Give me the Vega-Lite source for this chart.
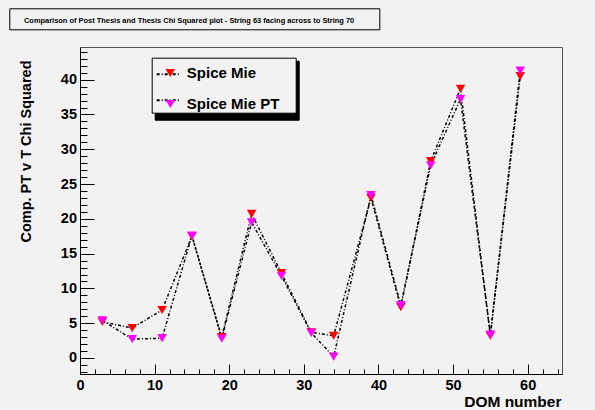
{
  "$schema": "https://vega.github.io/schema/vega-lite/v6.json",
  "width": 482,
  "height": 327,
  "autosize": "none",
  "padding": {"left": 80, "top": 47, "right": 33, "bottom": 36},
  "background": "#f2f2f2",
  "config": {
    "font": "Liberation Sans",
    "view": {"stroke": "#555555", "strokeWidth": 1, "fill": "#f2f2f2"}
  },
  "title": {
    "text": "Comparison of Post Thesis and Thesis Chi Squared plot - String 63 facing across to String  70",
    "anchor": "start",
    "frame": "group",
    "font": "Liberation Sans",
    "fontSize": 7.45,
    "fontWeight": "bold",
    "color": "#000000",
    "baseline": "alphabetic",
    "offset": -13.2,
    "dx": -56,
    "dy": 9,
    "zindex": 6
  },
  "data": {
    "values": [
      {"dom": 3, "series": "Spice Mie", "chi2": 5.2},
      {"dom": 7, "series": "Spice Mie", "chi2": 4.3},
      {"dom": 11, "series": "Spice Mie", "chi2": 6.9},
      {"dom": 15, "series": "Spice Mie", "chi2": 17.5},
      {"dom": 19, "series": "Spice Mie", "chi2": 3.0},
      {"dom": 23, "series": "Spice Mie", "chi2": 20.7},
      {"dom": 27, "series": "Spice Mie", "chi2": 12.2},
      {"dom": 31, "series": "Spice Mie", "chi2": 3.7},
      {"dom": 34, "series": "Spice Mie", "chi2": 3.2},
      {"dom": 39, "series": "Spice Mie", "chi2": 23.0},
      {"dom": 43, "series": "Spice Mie", "chi2": 7.3},
      {"dom": 47, "series": "Spice Mie", "chi2": 28.3},
      {"dom": 51, "series": "Spice Mie", "chi2": 38.7},
      {"dom": 55, "series": "Spice Mie", "chi2": 3.2},
      {"dom": 59, "series": "Spice Mie", "chi2": 40.5},
      {"dom": 3, "series": "Spice Mie PT", "chi2": 5.4},
      {"dom": 7, "series": "Spice Mie PT", "chi2": 2.7},
      {"dom": 11, "series": "Spice Mie PT", "chi2": 2.85},
      {"dom": 15, "series": "Spice Mie PT", "chi2": 17.6},
      {"dom": 19, "series": "Spice Mie PT", "chi2": 2.8},
      {"dom": 23, "series": "Spice Mie PT", "chi2": 19.5},
      {"dom": 27, "series": "Spice Mie PT", "chi2": 11.8},
      {"dom": 31, "series": "Spice Mie PT", "chi2": 3.6},
      {"dom": 34, "series": "Spice Mie PT", "chi2": 0.2},
      {"dom": 39, "series": "Spice Mie PT", "chi2": 23.4},
      {"dom": 43, "series": "Spice Mie PT", "chi2": 7.6},
      {"dom": 47, "series": "Spice Mie PT", "chi2": 27.7},
      {"dom": 51, "series": "Spice Mie PT", "chi2": 37.2},
      {"dom": 55, "series": "Spice Mie PT", "chi2": 3.35},
      {"dom": 59, "series": "Spice Mie PT", "chi2": 41.3}
    ]
  },
  "layer": [
    {
      "mark": {"type": "line", "strokeWidth": 1.5},
      "encoding": {
        "x": {
          "field": "dom",
          "type": "quantitative",
          "scale": {"domain": [0, 64.6], "nice": false, "zero": false},
          "axis": {
            "values": [0, 2, 4, 6, 8, 10, 12, 14, 16, 18, 20, 22, 24, 26, 28, 30, 32, 34, 36, 38, 40, 42, 44, 46, 48, 50, 52, 54, 56, 58, 60, 62, 64],
            "tickCount": 100,
            "format": "d",
            "grid": false,
            "domainColor": "#000000",
            "tickColor": "#000000",
            "tickWidth": 1,
            "tickSize": {"condition": {"test": "datum.value % 10 === 0", "value": -10}, "value": -5},
            "labelExpr": "datum.value % 10 === 0 ? datum.label : ''",
            "labelFont": "Liberation Sans",
            "labelFontSize": 14.5,
            "labelFontWeight": "bold",
            "labelColor": "#000000",
            "labelFlush": false,
            "labelOverlap": false,
            "labelBaseline": "alphabetic",
            "labelPadding": 25.7,
            "title": "DOM number",
            "titleFont": "Liberation Sans",
            "titleFontSize": 15.5,
            "titleFontWeight": "bold",
            "titleColor": "#000000",
            "titleAlign": "right",
            "titleBaseline": "alphabetic",
            "titleX": 481,
            "titleY": 32
          }
        },
        "y": {
          "field": "chi2",
          "type": "quantitative",
          "scale": {"domain": [-2.3, 44.7], "nice": false, "zero": false},
          "axis": {
            "values": [-2, -1, 0, 1, 2, 3, 4, 5, 6, 7, 8, 9, 10, 11, 12, 13, 14, 15, 16, 17, 18, 19, 20, 21, 22, 23, 24, 25, 26, 27, 28, 29, 30, 31, 32, 33, 34, 35, 36, 37, 38, 39, 40, 41, 42, 43, 44],
            "tickCount": 100,
            "format": "d",
            "grid": false,
            "domainColor": "#000000",
            "tickColor": "#000000",
            "tickWidth": 1,
            "tickSize": {"condition": {"test": "datum.value % 5 === 0", "value": -14}, "value": -7},
            "labelExpr": "datum.value % 5 === 0 ? datum.label : ''",
            "labelFont": "Liberation Sans",
            "labelFontSize": 14.5,
            "labelFontWeight": "bold",
            "labelColor": "#000000",
            "labelFlush": false,
            "labelOverlap": false,
            "labelBaseline": "middle",
            "labelPadding": 17.5,
            "title": "Comp. PT v T Chi Squared",
            "titleFont": "Liberation Sans",
            "titleFontSize": 14.5,
            "titleFontWeight": "bold",
            "titleColor": "#000000",
            "titleAngle": 270,
            "titleAlign": "right",
            "titleBaseline": "middle",
            "titleX": -54,
            "titleY": 13
          }
        },
        "stroke": {
          "field": "series",
          "type": "nominal",
          "scale": {"domain": ["Spice Mie", "Spice Mie PT"], "range": ["#000000", "#000000"]},
          "legend": {
            "orient": "none",
            "legendX": 71.7,
            "legendY": 10.7,
            "title": null,
            "symbolType": "stroke",
            "symbolSize": 529,
            "symbolStrokeWidth": 2,
            "symbolDash": [3, 2, 1, 2],
            "symbolStrokeColor": "#000000",
            "labelFontSize": 15,
            "labelExpr": "''",
            "labelOffset": 111,
            "rowPadding": 5,
            "padding": 4,
            "strokeColor": "#000000",
            "fillColor": "#f2f2f2",
            "zindex": 2
          }
        },
        "strokeDash": {
          "datum": "frame",
          "type": "nominal",
          "scale": {"range": [[3, 2, 1, 2]]},
          "legend": {
            "orient": "none",
            "legendX": -70.7,
            "legendY": -38.7,
            "title": null,
            "symbolSize": 441,
            "symbolStrokeWidth": 0,
            "symbolOpacity": 0,
            "labelFontSize": 10,
            "labelExpr": "''",
            "labelOffset": 344,
            "padding": 2.5,
            "strokeColor": "#000000",
            "fillColor": "#f2f2f2",
            "zindex": 5
          }
        },
        "strokeWidth": {
          "datum": "shadow",
          "type": "nominal",
          "scale": {"range": [1.5]},
          "legend": {
            "orient": "none",
            "legendX": -68.7,
            "legendY": -36.7,
            "title": null,
            "symbolSize": 441,
            "symbolStrokeWidth": 0,
            "symbolOpacity": 0,
            "labelFontSize": 10,
            "labelExpr": "''",
            "labelOffset": 344,
            "padding": 2.5,
            "strokeColor": "#000000",
            "fillColor": "#000000",
            "zindex": 4
          }
        },
        "order": {"field": "dom", "type": "quantitative"}
      }
    },
    {
      "mark": {"type": "point", "filled": true, "size": 90, "opacity": 1, "strokeWidth": 0},
      "encoding": {
        "x": {"field": "dom", "type": "quantitative"},
        "y": {"field": "chi2", "type": "quantitative"},
        "fill": {
          "field": "series",
          "type": "nominal",
          "scale": {"range": ["#ff0000", "#ff00ff"]},
          "legend": {
            "orient": "none",
            "legendX": 82.8,
            "legendY": 18.5,
            "title": null,
            "symbolType": "triangle-down",
            "symbolSize": 90,
            "symbolStrokeWidth": 0,
            "symbolOpacity": 1,
            "labelFont": "Liberation Sans",
            "labelFontSize": 15,
            "labelFontWeight": "bold",
            "labelColor": "#000000",
            "labelOffset": 9,
            "rowPadding": 15,
            "padding": 0,
            "zindex": 3
          }
        },
        "shape": {
          "field": "series",
          "type": "nominal",
          "scale": {"domain": ["Spice Mie PT", "Spice Mie"], "range": ["triangle-down", "triangle-down"]},
          "legend": {
            "orient": "none",
            "legendX": 74.7,
            "legendY": 13.7,
            "title": null,
            "symbolSize": 529,
            "symbolStrokeWidth": 2,
            "symbolOpacity": 0,
            "labelFontSize": 15,
            "labelExpr": "''",
            "labelOffset": 111,
            "rowPadding": 5,
            "padding": 4,
            "strokeColor": "#000000",
            "fillColor": "#000000",
            "zindex": 1
          }
        }
      }
    }
  ]
}
